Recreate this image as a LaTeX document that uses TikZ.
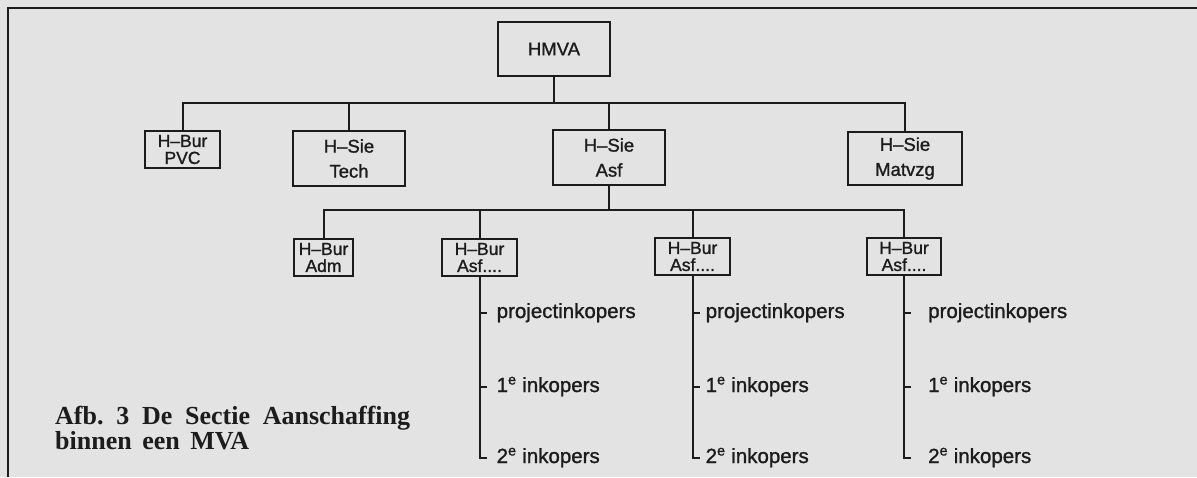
\documentclass[tikz,border=0pt]{standalone}
\usepackage{fontspec}
\newfontfamily\boxfont[Ligatures=TeX, FakeBold=1.2]{Liberation Sans}
\newfontfamily\capfont[Ligatures=TeX]{Liberation Serif}
\usepackage{tikz}
\usetikzlibrary{positioning}
\definecolor{papier}{HTML}{E3E3E3}
\definecolor{inkt}{HTML}{1C1C1C}
\tikzset{
  siebox/.style={
    rectangle, draw=inkt, line width=2pt, text=inkt,
    minimum width=112pt, minimum height=#1,
    font=\boxfont\fontsize{18.5}{25}\selectfont, align=center,
    inner sep=0pt
  },
  siebox/.default=55pt,
  burbox/.style={
    rectangle, draw=inkt, line width=2pt, text=inkt,
    minimum width=#1, minimum height=37pt,
    font=\boxfont\fontsize{17.5}{17}\selectfont, align=center,
    inner sep=0pt
  },
  burbox/.default=75pt,
  orglijn/.style={
    line width=2pt, color=inkt
  },
  labelnode/.style={
    font=\boxfont\fontsize{20.5}{22}\selectfont, text=inkt,
    anchor=west, inner sep=0pt, text height=14pt, text depth=4pt
  },
  capnode/.style={
    font=\capfont\bfseries\fontsize{26}{22}\selectfont, text=inkt,
    align=left, inner sep=0pt
  },
}

\begin{document}
\begin{tikzpicture}[x=1pt, y=-1pt]
  \useasboundingbox (0,0) rectangle (1197,477);
  \fill[papier] (0,0) rectangle (1197,477);
  \draw[orglijn] (8,477) -- (8,8) -- (1197,8);

  % Top
  \node[siebox=54pt] (hmva) at (554,49) {HMVA};

  % Secties en bureau PVC
  \node[burbox] (pvc) at (182.5,149.5) {H--Bur\\PVC};
  \node[siebox] (tech) at (349,158.5) {H--Sie\\Tech};
  \node[siebox] (sieasf) at (609,157.5) {H--Sie\\Asf};
  \node[siebox=53pt, minimum width=114pt] (matvzg) at (905,158.5) {H--Sie\\Matvzg};
  \coordinate (bus1) at (554,103);
  \draw[orglijn] (hmva.south) -- (bus1);
  \draw[orglijn] (pvc.north) |- (bus1) -| (matvzg.north);
  \draw[orglijn] (tech.north) -- (tech.north |- bus1);
  \draw[orglijn] (sieasf.north) -- (sieasf.north |- bus1);

  % Bureaus
  \node[burbox=59pt] (adm) at (323.5,257.5) {H--Bur\\Adm};
  \node[burbox] (asf1) at (479.5,257.5) {H--Bur\\Asf....};
  \node[burbox] (asf2) at (692.5,256.5) {H--Bur\\Asf....};
  \node[burbox=74pt] (asf3) at (904,256.5) {H--Bur\\Asf....};
  \coordinate (bus2) at (609,210);
  \draw[orglijn] (sieasf.south) -- (bus2);
  \draw[orglijn] (adm.north) |- (bus2) -| (asf3.north);
  \draw[orglijn] (asf1.north) -- (asf1.north |- bus2);
  \draw[orglijn] (asf2.north) -- (asf2.north |- bus2);

  % Inkopers
  \coordinate (y313) at (0,313);
  \coordinate (y387) at (0,387);
  \coordinate (y458) at (0,458);
  \foreach \b/\g in {asf1/17, asf2/13, asf3/24}{
    \node[labelnode] (\b-proj) at ([xshift=\g]\b.south |- y313) {projectinkopers};
    \node[labelnode] (\b-een) at ([xshift=\g]\b.south |- y387) {1\textsuperscript{e} inkopers};
    \node[labelnode] (\b-twee) at ([xshift=\g]\b.south |- y458) {2\textsuperscript{e} inkopers};
    \draw[orglijn] (\b.south |- \b-proj.west) -- ++(7,0);
    \draw[orglijn] (\b.south |- \b-een.west) -- ++(7,0);
    \draw[orglijn] (\b.south) |- ([xshift=7]\b.south |- \b-twee.west);
  }

  % Onderschrift
  \node[capnode, anchor=base west] (cap) at (55,449)
    {\frenchspacing\makebox[355pt][s]{Afb. 3 De Sectie Aanschaffing}\\
     \makebox[194pt][s]{binnen een MVA}};
\end{tikzpicture}
\end{document}
